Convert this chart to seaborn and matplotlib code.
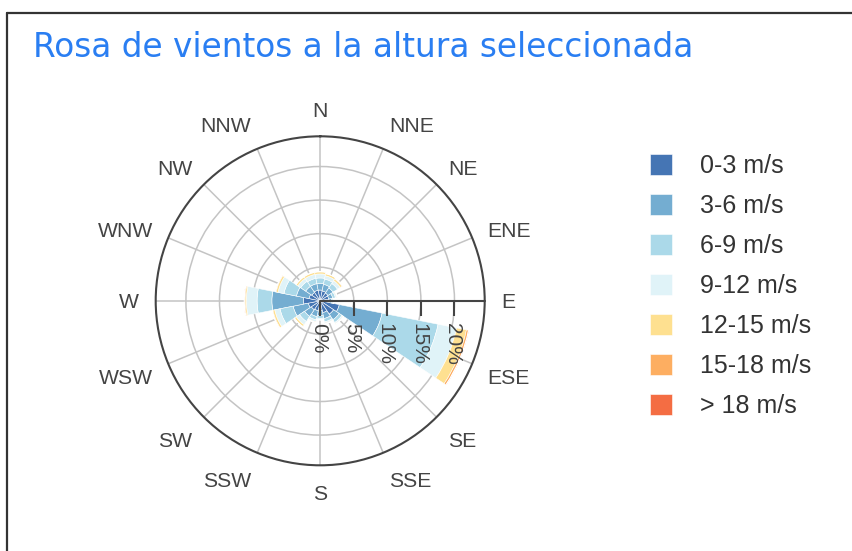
import numpy as np
import matplotlib
matplotlib.use('Agg')
import matplotlib.pyplot as plt
import matplotlib.transforms as mtransforms
from matplotlib.lines import Line2D
import seaborn as sns

### Datos
direcciones = ['N', 'NNE', 'NE', 'ENE', 'E', 'ESE', 'SE', 'SSE',
               'S', 'SSW', 'SW', 'WSW', 'W', 'WNW', 'NW', 'NNW']
rangos = ['0-3 m/s', '3-6 m/s', '6-9 m/s', '9-12 m/s',
          '12-15 m/s', '15-18 m/s', '> 18 m/s']

# frecuencia (%) por rango de velocidad y direccion
v_0_3   = [1.6, 1.5, 1.4, 1.3, 1.3, 2.9, 2.4, 1.8, 1.5, 1.5, 1.6, 1.8, 2.5, 1.7, 1.5, 1.6]
v_3_6   = [1.0, 1.0, 0.9, 0.6, 0.4, 6.5, 1.0, 0.9, 0.7, 0.9, 1.2, 2.3, 4.7, 1.9, 1.1, 1.0]
v_6_9   = [0.8, 0.8, 0.8, 0.4, 0.2, 8.5, 0.5, 0.5, 0.4, 0.5, 0.9, 2.0, 2.2, 1.9, 0.9, 0.8]
v_9_12  = [0.6, 0.5, 0.5, 0.2, 0.1, 2.8, 0.2, 0.2, 0.2, 0.3, 0.6, 0.8, 1.6, 0.9, 0.5, 0.6]
v_12_15 = [0.3, 0.3, 0.3, 0.1, 0.05, 1.5, 0.1, 0.1, 0.05, 0.1, 0.3, 0.3, 0.2, 0.3, 0.3, 0.3]
v_15_18 = [0.06, 0.05, 0.1, 0.0, 0.0, 0.3, 0.0, 0.0, 0.0, 0.0, 0.05, 0.1, 0.12, 0.1, 0.05, 0.06]
v_18    = [0.0, 0.0, 0.0, 0.0, 0.0, 0.06, 0.0, 0.0, 0.0, 0.0, 0.0, 0.0, 0.02, 0.0, 0.0, 0.0]

series = [v_0_3, v_3_6, v_6_9, v_9_12, v_12_15, v_15_18, v_18]
ticks_r = [0, 5, 10, 15, 20]
r_max = 24.5

### Estilo
sns.set_style('white')
plt.rcParams['font.family'] = ['Liberation Sans', 'DejaVu Sans']
colores = sns.color_palette(['#4575b4', '#74add1', '#abd9e9', '#e0f3f8',
                             '#fee090', '#fdae61', '#f46d43'])

fig = plt.figure(figsize=(8.52, 5.51), dpi=100)

# borde de la tarjeta
fig.add_artist(Line2D([7/852, 1], [1 - 13/551, 1 - 13/551], color='#333333', lw=1.6))
fig.add_artist(Line2D([7/852, 7/852], [0, 1 - 13/551], color='#333333', lw=1.6))

fig.text(33/852, 1 - 57/551, 'Rosa de vientos a la altura seleccionada',
         color='#2a7ef2', fontsize=23.6, family='DejaVu Sans', va='baseline')

ax = fig.add_axes([155.7/852, 85.7/551, 329/852, 329/551], projection='polar')
ax.set_theta_zero_location('N')
ax.set_theta_direction(-1)

theta = np.deg2rad(np.arange(len(direcciones)) * 22.5)
ancho = np.deg2rad(22.5)
base = np.zeros(len(direcciones))
for vals, lab, col in zip(series, rangos, colores):
    ax.bar(theta, vals, width=ancho, bottom=base, color=col, label=lab,
           edgecolor='white', linewidth=0.4, zorder=3)
    base = base + np.array(vals)

ax.set_ylim(0, r_max)
ax.set_yticks(ticks_r[1:])
ax.set_yticklabels([])
ax.set_xticks(theta)
ax.set_xticklabels([])
ax.tick_params(axis='x', direction='out', length=8, width=1.2, color='#444444')
ax.grid(color='#c4c4c4', linewidth=1.1)
ax.spines['polar'].set_color('#444444')
ax.spines['polar'].set_linewidth(1.5)

# etiquetas de direccion fuera del circulo (desplazamiento en pixeles)
for th, nombre in zip(theta, direcciones):
    s, c = np.sin(th), np.cos(th)
    ha = 'left' if s > 0.1 else ('right' if s < -0.1 else 'center')
    dx = 16.5 * s
    if c >= 0:
        dy = 16 * c + 10.3 * c * c
    else:
        dy = 16 * c - min(12, 18 * abs(c))
    dy -= 1.5
    tr = ax.transData + mtransforms.ScaledTranslation(dx / 100, dy / 100, fig.dpi_scale_trans)
    ax.text(th, r_max, nombre, ha=ha, va='center', fontsize=15.2, color='#444444',
            transform=tr, clip_on=False)

# eje radial (hacia el este) con marcas y etiquetas rotadas
ang_e = np.deg2rad(90)
ax.plot([ang_e, ang_e], [0, r_max], color='#444444', lw=1.5, zorder=5, clip_on=False)
ax.plot([ang_e] * len(ticks_r), ticks_r, linestyle='none', marker=3,
        markersize=11, markeredgewidth=1.5, color='#444444', zorder=5)
off = mtransforms.ScaledTranslation(-2/100, -22/100, fig.dpi_scale_trans)
for t in ticks_r:
    ax.text(ang_e, t, f'{t}%', rotation=-90, ha='center', va='top',
            fontsize=15, color='#444444', transform=ax.transData + off, zorder=6)

# leyenda
fig.legend(loc='upper left', bbox_to_anchor=(650/852, 1 - 154/551), frameon=False,
           fontsize=18, labelcolor='#333333', handlelength=0.88, handleheight=0.88,
           handletextpad=1.1, labelspacing=0.64, borderaxespad=0, borderpad=0)

plt.savefig('out.png', dpi=100)
